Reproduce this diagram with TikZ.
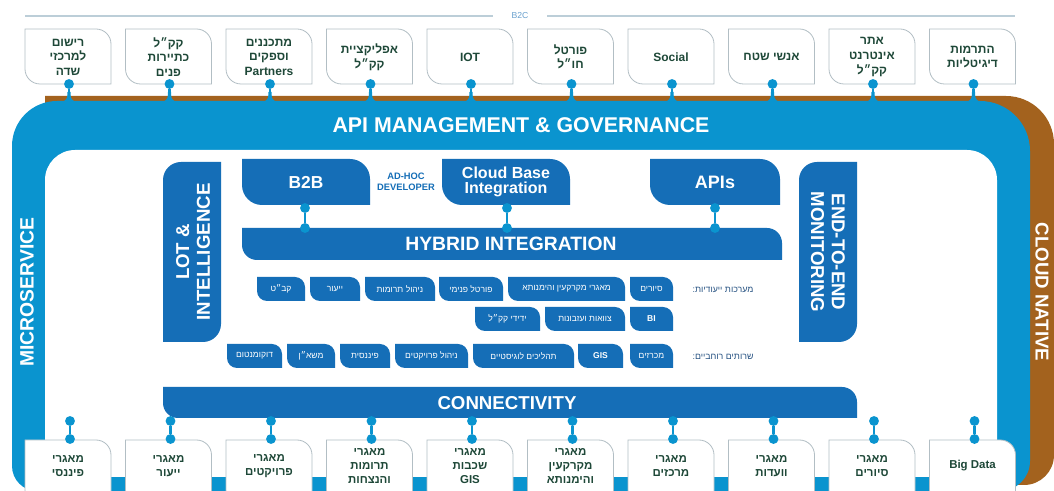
\documentclass[tikz,border=0pt]{standalone}
\usepackage{fontspec}
\setmainfont{Liberation Sans}
\newfontfamily\hebfont[Script=Hebrew]{Liberation Sans}
\TeXXeTstate=1
\newcommand\heb[1]{{\hebfont\beginR#1\endR}}
\definecolor{lblue}{RGB}{10,148,207}
\definecolor{dblue}{RGB}{21,110,183}
\definecolor{brownc}{RGB}{163,98,30}
\definecolor{tgreen}{RGB}{30,72,56}
\definecolor{boxline}{RGB}{178,190,196}
\definecolor{topline}{RGB}{188,206,216}
\definecolor{btwoc}{RGB}{105,160,205}
\definecolor{lbl}{RGB}{38,82,130}
% horizontal leaf: top-right and bottom-left rounded
\newcommand\leafH[6]{\path[#1] (#2,#3) -- ({#4-#6},#3) arc[start angle=-90,end angle=0,radius=#6] -- (#4,#5) -- ({#2+#6},#5) arc[start angle=90,end angle=180,radius=#6] -- cycle;}
% vertical leaf: top-left and bottom-right rounded
\newcommand\leafV[6]{\path[#1] (#2,{#3+#6}) arc[start angle=180,end angle=270,radius=#6] -- (#4,#3) -- (#4,{#5-#6}) arc[start angle=0,end angle=90,radius=#6] -- (#2,#5) -- cycle;}
\newcommand\smallbox[6]{\leafH{bluebox}{#2}{#3}{#4}{#5}{10}\node[smalltxt] (#1) at ({(#2+#4)/2},{(#3+#5)/2}) {#6};}
\begin{document}
\begin{tikzpicture}[x=0.75pt,y=-0.75pt,
  dot/.style={circle,fill=lblue,inner sep=0pt,minimum size=7.4pt},
  conn/.style={draw=lblue,line width=2pt},
  whitebox/.style={fill=white,draw=boxline,line width=0.6pt},
  bluebox/.style={fill=dblue},
  toptxt/.style={font=\bfseries\fontsize{9}{10.9}\selectfont,text=tgreen,align=center,inner sep=0pt},
  bottxt/.style={font=\bfseries\fontsize{8.6}{10.5}\selectfont,text=tgreen,align=center,inner sep=0pt},
  bigtxt/.style={font=\bfseries\fontsize{14}{15.5}\selectfont,text=white,align=center,inner sep=0pt},
  midtxt/.style={font=\bfseries\fontsize{13}{11.2}\selectfont,text=white,align=center,inner sep=0pt},
  smalltxt/.style={font=\fontsize{6.4}{7}\selectfont,text=white,inner sep=0pt},
  lbltxt/.style={font=\fontsize{6.6}{7}\selectfont,text=lbl,inner sep=0pt},
]
\useasboundingbox (0,0) rectangle (1054,491);
\clip (0,0) rectangle (1054,491);
% B2C line
\node[font=\fontsize{6.5}{7}\selectfont,text=btwoc,inner sep=0pt] (b2c) at (520,16) {B2C};
\coordinate (tla) at (25,16); \coordinate (tlb) at (493,16);
\coordinate (tlc) at (547,16); \coordinate (tld) at (1015,16);
\draw[topline,line width=0.8pt] (tla) -- (tlb) (tlc) -- (tld);
% cloud native (brown)
\fill[brownc] (45,96) -- (1006,96) arc[start angle=-90,end angle=0,radius=48] -- (1054,455) arc[start angle=0,end angle=90,radius=30] -- (45,485) -- cycle;
% microservice / api band (blue)
\fill[lblue] (37,491) arc[start angle=90,end angle=180,radius=25] -- (12,146) arc[start angle=180,end angle=270,radius=45] -- (980,101) arc[start angle=-90,end angle=0,radius=50] -- (1030,461) arc[start angle=0,end angle=90,radius=30] -- cycle;
% inner white
\fill[white] (45,477) -- (45,180) arc[start angle=180,end angle=270,radius=30] -- (967,150) arc[start angle=-90,end angle=0,radius=30] -- (997,477) -- cycle;
\node[font=\bfseries\fontsize{16}{18}\selectfont,text=white,inner sep=0pt] (api) at (521,125) {API MANAGEMENT \& GOVERNANCE};
\node[bigtxt,font=\bfseries\fontsize{14.5}{16}\selectfont,rotate=90] (micro) at (27,292) {MICROSERVICE};
\node[bigtxt,rotate=-90] (cloud) at (1042,292) {CLOUD NATIVE};
% vertical boxes
\leafV{bluebox}{163}{162}{221}{342}{18}
\node[bigtxt,rotate=90] (lot) at (193,252) {LOT \&\\INTELLIGENCE};
\leafV{bluebox}{799}{162}{857}{342}{18}
\node[bigtxt,rotate=-90] (e2e) at (828,252) {END-TO-END\\MONITORING};
% upper boxes
\leafH{bluebox}{242}{159}{370}{205}{20}
\node[midtxt] (b2b) at (306,182) {B2B};
\leafH{bluebox}{442}{159}{570}{205}{20}
\node[midtxt,font=\bfseries\fontsize{12}{11.2}\selectfont] (cbi) at (506,182) {Cloud Base\\Integration};
\leafH{bluebox}{650}{159}{780}{205}{20}
\node[midtxt,font=\bfseries\fontsize{13.5}{12}\selectfont] (apis) at (715,182) {APIs};
\node[font=\bfseries\fontsize{7}{8.3}\selectfont,text=dblue,align=center,inner sep=0pt] (adhoc) at (406,182) {AD-HOC\\DEVELOPER};
% hybrid integration
\leafH{bluebox}{242}{228}{782}{260}{15}
\node[midtxt,font=\bfseries\fontsize{14.5}{16}\selectfont] (hyb) at (511,244) {HYBRID INTEGRATION};
\foreach \xx/\nm in {305/hb,507/hc,715/ha}{
  \node[dot] (\nm u) at (\xx,208) {};
  \node[dot] (\nm l) at (\xx,228) {};
  \draw[conn] (\nm u) -- (\nm l);
}
% small boxes
\smallbox{s11}{257}{277}{305}{301}{\heb{קב״ט}}
\smallbox{s12}{310}{277}{360}{301}{\heb{ייעור}}
\smallbox{s13}{365}{277}{435}{301}{\heb{ניהול תרומות}}
\smallbox{s14}{439}{277}{503}{301}{\heb{פורטל פנימי}}
\smallbox{s15}{508}{277}{625}{301}{\heb{מאגרי מקרקעין והימנותא}}
\smallbox{s16}{630}{277}{673}{301}{\heb{סיורים}}
\smallbox{s21}{475}{307}{540}{331}{\heb{ידידי קק״ל}}
\smallbox{s22}{545}{307}{625}{331}{\heb{צוואות ועזבונות}}
\smallbox{s23}{630}{307}{673}{331}{\textbf{BI}}
\smallbox{s31}{227}{344}{282}{368}{\heb{דוקומנטום}}
\smallbox{s32}{287}{344}{335}{368}{\heb{משא״ן}}
\smallbox{s33}{340}{344}{390}{368}{\heb{פיננסית}}
\smallbox{s34}{395}{344}{468}{368}{\heb{ניהול פרויקטים}}
\smallbox{s35}{473}{344}{574}{368}{\heb{תהליכים לוגיסטיים}}
\smallbox{s36}{578}{344}{623}{368}{\textbf{GIS}}
\smallbox{s37}{630}{344}{673}{368}{\heb{מכרזים}}
\node[lbltxt] (lbla) at (723,290) {\heb{מערכות ייעודיות:}};
\node[lbltxt] (lblb) at (723,357) {\heb{שרותים רוחביים:}};
% connectivity
\leafH{bluebox}{163}{387}{857}{418}{15}
\node[midtxt,font=\bfseries\fontsize{14}{16}\selectfont] (conn) at (507,403) {CONNECTIVITY};
% top boxes
\foreach \i/\nm/\txt in {
  0/ta/{\heb{רישום}\\\heb{למרכזי}\\\heb{שדה}},
  1/tb/{\heb{קק״ל}\\\heb{כתיירות}\\\heb{פנים}},
  2/tc/{\heb{מתכננים}\\\heb{וספקים}\\Partners},
  3/td/{\heb{אפליקציית}\\\heb{קק״ל}},
  4/te/{IOT},
  5/tf/{\heb{פורטל}\\\heb{חו״ל}},
  6/tg/{Social},
  7/th/{\heb{אנשי שטח}},
  8/ti/{\heb{אתר}\\\heb{אינטרנט}\\\heb{קק״ל}},
  9/tj/{\heb{התרמות}\\\heb{דיגיטליות}}}{
  \pgfmathsetmacro\xl{25+100.5*\i}
  \pgfmathsetmacro\xr{\xl+86}
  \pgfmathsetmacro\xc{\xl+44}
  \leafH{whitebox}{\xl}{29}{\xr}{84}{15}
  \node[toptxt] (\nm) at ({\xl+43},57) {\txt};
  \node[dot] (d\nm) at (\xc,84) {};
  \coordinate (b\nm) at (\xc,101);
  \fill[lblue] ({\xc-6},101.5) .. controls ({\xc-2},100) and ({\xc-1.5},97) .. ({\xc-1.5},92) -- ({\xc+1.5},92) .. controls ({\xc+1.5},97) and ({\xc+2},100) .. ({\xc+6},101.5) -- cycle;
  \draw[conn] (d\nm) -- (b\nm);
}
% bottom boxes
\foreach \i/\nm/\txt in {
  0/ba/{\heb{מאגרי}\\\heb{פיננסי}},
  1/bb/{\heb{מאגרי}\\\heb{ייעור}},
  2/bc/{\heb{מאגרי}\\\heb{פרויקטים}},
  3/bd/{\heb{מאגרי}\\\heb{תרומות}\\\heb{והנצחות}},
  4/be/{\heb{מאגרי}\\\heb{שכבות}\\GIS},
  5/bf/{\heb{מאגרי}\\\heb{מקרקעין}\\\heb{והימנותא}},
  6/bg/{\heb{מאגרי}\\\heb{מרכזים}},
  7/bh/{\heb{מאגרי}\\\heb{וועדות}},
  8/bi/{\heb{מאגרי}\\\heb{סיורים}},
  9/bj/{Big Data}}{
  \pgfmathsetmacro\xl{25+100.5*\i}
  \pgfmathsetmacro\xr{\xl+86}
  \pgfmathsetmacro\xc{\xl+45}
  \leafH{whitebox}{\xl}{440}{\xr}{505}{15}
  \node[bottxt] (\nm) at ({\xl+43},466) {\txt};
  \node[dot] (u\nm) at (\xc,421) {};
  \node[dot] (l\nm) at (\xc,439) {};
  \draw[conn] (u\nm) -- (l\nm);
}
\end{tikzpicture}
\end{document}
